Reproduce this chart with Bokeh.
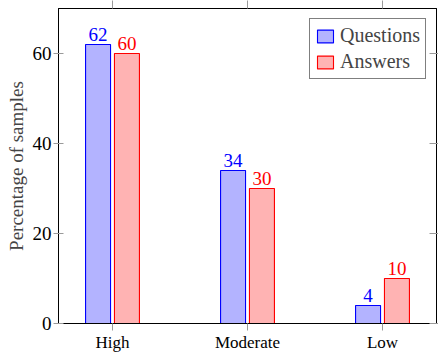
from bokeh.plotting import figure
from bokeh.models import (ColumnDataSource, Range1d, FixedTicker, LinearAxis,
                          LabelSet, Legend, LegendItem)
from bokeh.core.properties import value
from bokeh.transform import dodge
from bokeh.embed import file_html
from bokeh.resources import INLINE

categories = ["High", "Moderate", "Low"]
questions = [62, 34, 4]
answers = [60, 30, 10]
y_ticks = [0, 20, 40, 60]

FONT = "Liberation Serif"
GRAY = "#9a9a9a"

xs = list(range(len(categories)))
src = ColumnDataSource(dict(
    x=xs, q=questions, a=answers,
    ql=[str(v) for v in questions], al=[str(v) for v in answers],
))

p = figure(width=438, height=354, output_backend="svg", toolbar_location=None,
           x_range=Range1d(-0.4, 2.4), y_range=Range1d(0, 70),
           min_border_left=58, min_border_right=0, min_border_top=0,
           min_border_bottom=0, x_axis_type=None, y_axis_type=None)
p.grid.visible = False
p.outline_line_color = "black"
p.outline_line_width = 1
p.background_fill_color = "white"
p.border_fill_color = "white"

off = 0.107
w = 0.185
rq = p.vbar(x=dodge("x", -off), top="q", width=w, source=src,
            fill_color="#b3b3ff", line_color="#0000ff", line_width=1.1)
ra = p.vbar(x=dodge("x", off), top="a", width=w, source=src,
            fill_color="#ffb3b3", line_color="#ff0000", line_width=1.1)

p.add_layout(LabelSet(x=dodge("x", -off), y="q", text="ql", source=src,
                      text_align="center", text_baseline="bottom", y_offset=4,
                      text_color="#0000ff", text_font=value(FONT),
                      text_font_size="19px"))
p.add_layout(LabelSet(x=dodge("x", off), y="a", text="al", source=src,
                      text_align="center", text_baseline="bottom", y_offset=4,
                      text_color="#ff0000", text_font=value(FONT),
                      text_font_size="19px"))

xt = FixedTicker(ticks=xs)
yt = FixedTicker(ticks=y_ticks)

def style(ax):
    ax.axis_line_color = "black"
    ax.axis_line_width = 1
    ax.major_tick_line_color = GRAY
    ax.minor_tick_line_color = None
    ax.major_label_text_font = FONT
    ax.major_label_text_color = "black"

bottom = LinearAxis(ticker=xt, major_label_overrides={i: c for i, c in enumerate(categories)})
style(bottom)
bottom.major_tick_in = 0
bottom.major_tick_out = 7
bottom.major_label_standoff = 2
bottom.major_label_text_font_size = "17px"
p.add_layout(bottom, "below")

top = LinearAxis(ticker=xt, major_label_overrides={i: "" for i in xs})
style(top)
top.major_tick_in = 0
top.major_tick_out = 8
top.major_label_text_font_size = "1px"
top.major_label_standoff = 0
p.add_layout(top, "above")

left = LinearAxis(ticker=yt, axis_label="Percentage of samples")
style(left)
left.major_tick_in = 5
left.major_tick_out = 5
left.major_label_standoff = 2
left.major_label_text_font_size = "19px"
left.axis_label_text_font = FONT
left.axis_label_text_font_size = "19px"
left.axis_label_text_font_style = "normal"
left.axis_label_standoff = 3
p.add_layout(left, "left")

right = LinearAxis(ticker=yt, major_label_overrides={t: "" for t in y_ticks})
style(right)
right.major_tick_in = 7
right.major_tick_out = 2
right.major_label_text_font_size = "1px"
right.major_label_standoff = 0
p.add_layout(right, "right")

legend = Legend(items=[LegendItem(label="Questions", renderers=[rq]),
                       LegendItem(label="Answers", renderers=[ra])],
                location="top_right")
legend.border_line_color = "black"
legend.border_line_width = 1
legend.label_text_font = FONT
legend.label_text_font_size = "20px"
legend.glyph_width = 20
legend.glyph_height = 16
legend.label_height = 20
legend.padding = 5
legend.spacing = 3
legend.margin = 10
legend.label_standoff = 5
p.add_layout(legend, "center")

open("out.html", "w").write(file_html(p, INLINE))
